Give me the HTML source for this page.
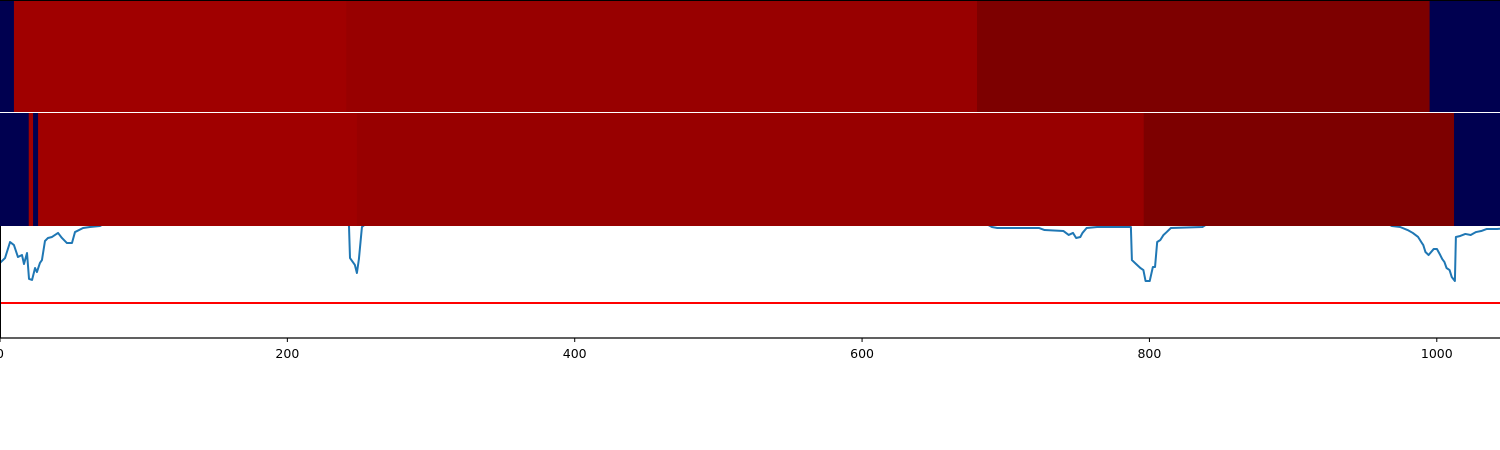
<!DOCTYPE html>
<html><head><meta charset="utf-8"><style>
body{margin:0;background:#fff;width:1500px;height:450px;overflow:hidden}
svg{display:block;font-family:"DejaVu Sans","Liberation Sans",sans-serif}
</style></head><body>
<svg id="chart" width="1500" height="450"></svg>
<script>
// data
const xMax = 1044;
const tickValues = [0, 200, 400, 600, 800, 1000];
const tickLabels = ["0", "200", "400", "600", "800", "1000"];
// heatmap rows: segment boundaries (data units) and colors
const row1Edges = [0, 9.7, 241, 680, 995, 1044];
const row1Colors = ["#000050", "#a00000", "#980000", "#7d0000", "#000050"];
const row2Edges = [0, 20, 23, 26.5, 248.4, 796, 1012, 1044];
const row2Colors = ["#000050", "#a00000", "#000050", "#a00000", "#980000", "#7d0000", "#000050"];
// line series
const lineX = [0,3.5,7,9.7,12.5,15.3,16.7,18.8,20.2,22.3,24.4,25.7,27.8,29.2,31.3,33.4,36.2,38.3,40.4,43.1,46.6,50.1,52.2,57.8,62.6,69.6,76.5,240,242.9,243.6,247,248.4,249.8,251.9,257.5,682,690.4,694.1,723.3,727.0,740.2,743.8,746.8,749.0,751.9,753.4,756.3,763.6,787.1,787.8,790.7,793.7,795.8,797.3,800.2,802.4,803.9,805.4,807.6,809.8,812.0,814.9,836.9,844,961.3,968.7,974.5,979.7,983.3,987.0,989.2,990.6,992.1,994.3,997.9,1000.1,1002.4,1003.8,1005.3,1006.8,1008.9,1010.4,1012.6,1013.3,1016.3,1019.9,1023.6,1027.3,1030.9,1034.6,1041.9,1044];
const lineY = [.670,.714,.857,.830,.723,.741,.661,.759,.527,.518,.625,.589,.670,.696,.866,.893,.902,.920,.938,.893,.848,.848,.946,.982,.991,1.0,1.05,1.05,1.0,.714,.652,.580,.705,.991,1.05,1.05,.991,.982,.982,.964,.955,.920,.938,.893,.902,.938,.982,.991,.991,.696,.661,.625,.607,.509,.509,.634,.634,.857,.875,.920,.946,.982,.991,1.05,1.05,1.0,.991,.964,.938,.902,.857,.830,.768,.741,.795,.795,.741,.705,.679,.625,.607,.545,.509,.902,.911,.929,.920,.946,.955,.973,.973,.975];
const threshold = 0.3125;

const svg = document.getElementById('chart');
const NS = 'http://www.w3.org/2000/svg';
const W = 1500, P3top = 226, P3bot = 338;
const sx = v => v / xMax * W;
const sy = v => P3bot - v * (P3bot - P3top);
function mk(tag, attrs){const e=document.createElementNS(NS,tag);for(const k in attrs)e.setAttribute(k,attrs[k]);svg.appendChild(e);return e;}

const defs = mk('defs',{});
const cp = document.createElementNS(NS,'clipPath'); cp.setAttribute('id','c3');
const cr = document.createElementNS(NS,'rect'); cr.setAttribute('x',0);cr.setAttribute('y',P3top);cr.setAttribute('width',W);cr.setAttribute('height',P3bot-P3top);
cp.appendChild(cr); defs.appendChild(cp);

const th = mk('line',{x1:0,x2:W,y1:sy(threshold),y2:sy(threshold),stroke:'#ff0000','stroke-width':2});



let d = '';
lineX.forEach((x,i)=>{d += (i?'L':'M') + sx(x).toFixed(2) + ',' + sy(lineY[i]).toFixed(2);});
const pl = mk('path',{d:d,fill:'none',stroke:'#1f77b4','stroke-width':2,'clip-path':'url(#c3)','stroke-linejoin':'round'});



function drawRow(edges, colors, y0, y1, name){
  for(let i=0;i<colors.length;i++){
    const r = mk('rect',{x:sx(edges[i]),y:y0,width:sx(edges[i+1])-sx(edges[i])+0.5,height:y1-y0,fill:colors[i]});
    
    
  }
}
drawRow(row1Edges,row1Colors,0,112,'heatmap-row-1');
drawRow(row2Edges,row2Colors,113,226,'heatmap-row-2');

const f1 = mk('line',{x1:0,x2:W,y1:0.5,y2:0.5,stroke:'#000','stroke-width':1});


const ax = mk('line',{x1:0,x2:W,y1:P3bot,y2:P3bot,stroke:'#000','stroke-width':1.2});


const ay = mk('line',{x1:0.5,x2:0.5,y1:P3top,y2:P3bot,stroke:'#000','stroke-width':1});



tickValues.forEach((v,i)=>{
  const x = sx(v);
  const t = mk('line',{x1:x,x2:x,y1:P3bot,y2:P3bot+4,stroke:'#000','stroke-width':1});
  
  
  const l = mk('text',{x:x,y:P3bot+20,'text-anchor':'middle','font-size':12.5,fill:'#000'});
  l.textContent = tickLabels[i];
  
  
});
</script>
</body></html>
